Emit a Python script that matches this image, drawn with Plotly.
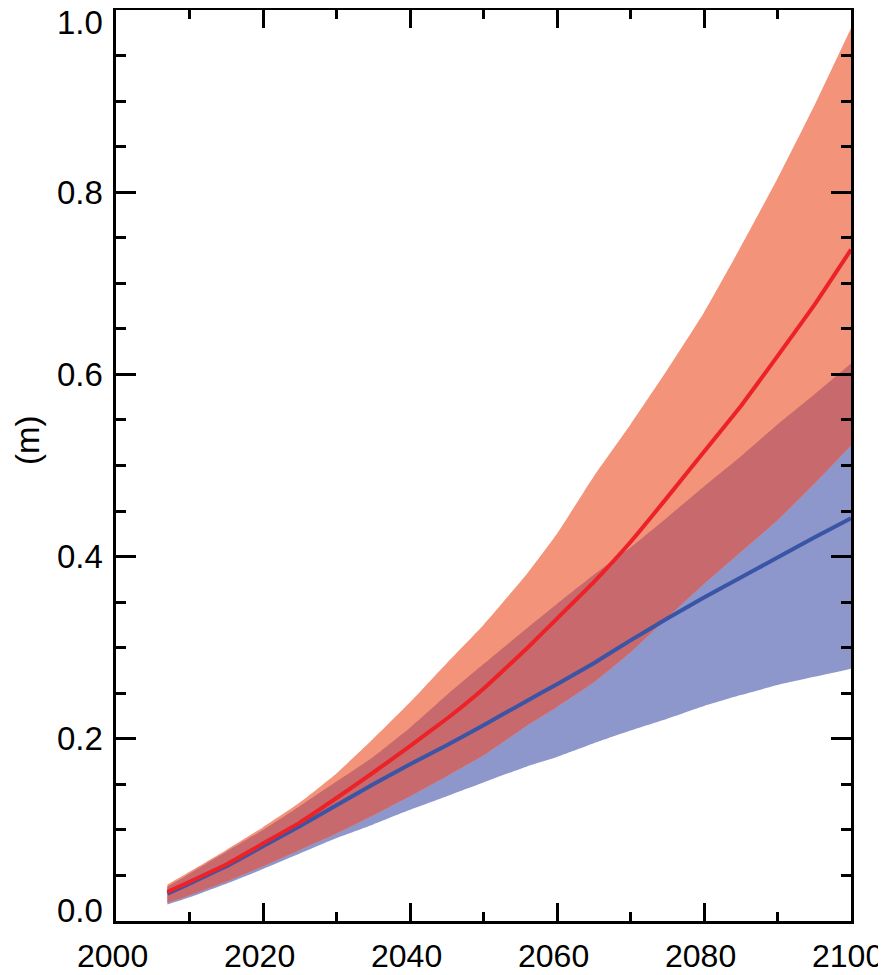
import numpy as np
import plotly.graph_objects as go

years = [2007, 2010, 2015, 2020, 2025, 2030, 2035, 2040, 2045, 2050, 2056,
         2060, 2065, 2070, 2075, 2080, 2085, 2090, 2095, 2100]

red_mean = [0.032, 0.043, 0.062, 0.085, 0.108, 0.135, 0.163, 0.192, 0.222, 0.255, 0.300,
            0.332, 0.372, 0.416, 0.465, 0.515, 0.565, 0.620, 0.676, 0.737]
red_upper = [0.040, 0.054, 0.078, 0.103, 0.130, 0.162, 0.200, 0.240, 0.283, 0.325, 0.382,
             0.425, 0.488, 0.545, 0.605, 0.668, 0.740, 0.815, 0.895, 0.980]
red_lower = [0.020, 0.028, 0.043, 0.060, 0.078, 0.096, 0.116, 0.137, 0.159, 0.182, 0.215,
             0.235, 0.262, 0.295, 0.333, 0.370, 0.405, 0.440, 0.480, 0.522]

blue_mean = [0.030, 0.041, 0.060, 0.082, 0.104, 0.127, 0.150, 0.172, 0.193, 0.215, 0.242,
             0.260, 0.283, 0.308, 0.332, 0.355, 0.377, 0.399, 0.421, 0.442]
blue_upper = [0.038, 0.052, 0.076, 0.100, 0.126, 0.153, 0.180, 0.212, 0.248, 0.282, 0.322,
              0.348, 0.380, 0.410, 0.443, 0.477, 0.510, 0.545, 0.578, 0.612]
blue_lower = [0.018, 0.026, 0.041, 0.057, 0.074, 0.091, 0.106, 0.122, 0.137, 0.152, 0.170,
              0.180, 0.195, 0.209, 0.222, 0.236, 0.248, 0.259, 0.268, 0.277]

x_ticks = [2000, 2020, 2040, 2060, 2080, 2100]
x_labels = ["2000", "2020", "2040", "2060", "2080", "2100"]
y_ticks = [0.0, 0.2, 0.4, 0.6, 0.8, 1.0]
y_labels = ["0.0", "0.2", "0.4", "0.6", "0.8", "1.0"]
y_title = "(m)"

C_SALMON = "#F3937A"
C_BLUE = "#8E97CB"
C_OVER = "#C8696E"
C_RED_LINE = "#EC2227"
C_BLUE_LINE = "#3A55A5"

FONT = "Liberation Sans, Arial, sans-serif"
FS = 33

ov_top = np.minimum(red_upper, blue_upper)
ov_bot = np.maximum(red_lower, blue_lower)

fig = go.Figure()


def add_band(lo, hi, color):
    fig.add_trace(go.Scatter(x=years, y=list(lo), mode="lines",
                             line=dict(width=0, color=color, shape="spline", smoothing=0.4),
                             hoverinfo="skip", showlegend=False))
    fig.add_trace(go.Scatter(x=years, y=list(hi), mode="lines", fill="tonexty",
                             fillcolor=color,
                             line=dict(width=0, color=color, shape="spline", smoothing=0.4),
                             hoverinfo="skip", showlegend=False))


add_band(blue_lower, blue_upper, C_BLUE)
add_band(red_lower, red_upper, C_SALMON)
add_band(ov_bot, ov_top, C_OVER)
fig.add_trace(go.Scatter(x=years, y=blue_mean, mode="lines",
                         line=dict(color=C_BLUE_LINE, width=4, shape="spline", smoothing=0.3),
                         showlegend=False))
fig.add_trace(go.Scatter(x=years, y=red_mean, mode="lines",
                         line=dict(color=C_RED_LINE, width=4, shape="spline", smoothing=0.3),
                         showlegend=False))

axis_common = dict(showline=True, linecolor="black", linewidth=3, mirror="ticks",
                   ticks="inside", tickcolor="black", tickwidth=3, showgrid=False,
                   zeroline=False, automargin=False, showticklabels=False)

fig.update_xaxes(range=[2000 - 1e-6, 2100 + 1e-6], tickvals=x_ticks, ticklen=18,
                 minor=dict(tickvals=list(range(2010, 2100, 20)), ticks="inside", ticklen=9,
                            tickwidth=3, tickcolor="black", showgrid=False),
                 **axis_common)
fig.update_yaxes(range=[0 - 1e-8, 1.0 + 1e-8], tickvals=y_ticks, ticklen=20,
                 minor=dict(dtick=0.05, tick0=0, ticks="inside", ticklen=10,
                            tickwidth=3, tickcolor="black", showgrid=False),
                 **axis_common)

annotations = []
yfont = dict(family=FONT, size=FS, color="black")
xfont = dict(family=FONT, size=32, color="black")
yshifts = {0: 11, len(y_ticks) - 1: -12}
for i, (v, t) in enumerate(zip(y_ticks, y_labels)):
    annotations.append(dict(x=0, xref="paper", y=v, yref="y", text=t, showarrow=False,
                            xanchor="right", yanchor="middle", xshift=-11,
                            yshift=yshifts.get(i, 0), font=yfont))
for v, t in zip(x_ticks, x_labels):
    annotations.append(dict(x=v, xref="x", y=0, yref="paper", text=t, showarrow=False,
                            xanchor="center", yanchor="middle", xshift=-4, yshift=-35,
                            font=xfont))
annotations.append(dict(x=0, xref="paper", y=0.527, yref="paper", text=y_title,
                        showarrow=False, textangle=-90, xanchor="center", yanchor="middle",
                        xshift=-88, font=yfont))

fig.update_layout(width=878, height=967, margin=dict(l=108, r=35, t=2, b=54),
                  plot_bgcolor="white", paper_bgcolor="white", annotations=annotations)

fig.write_html("out.html")
